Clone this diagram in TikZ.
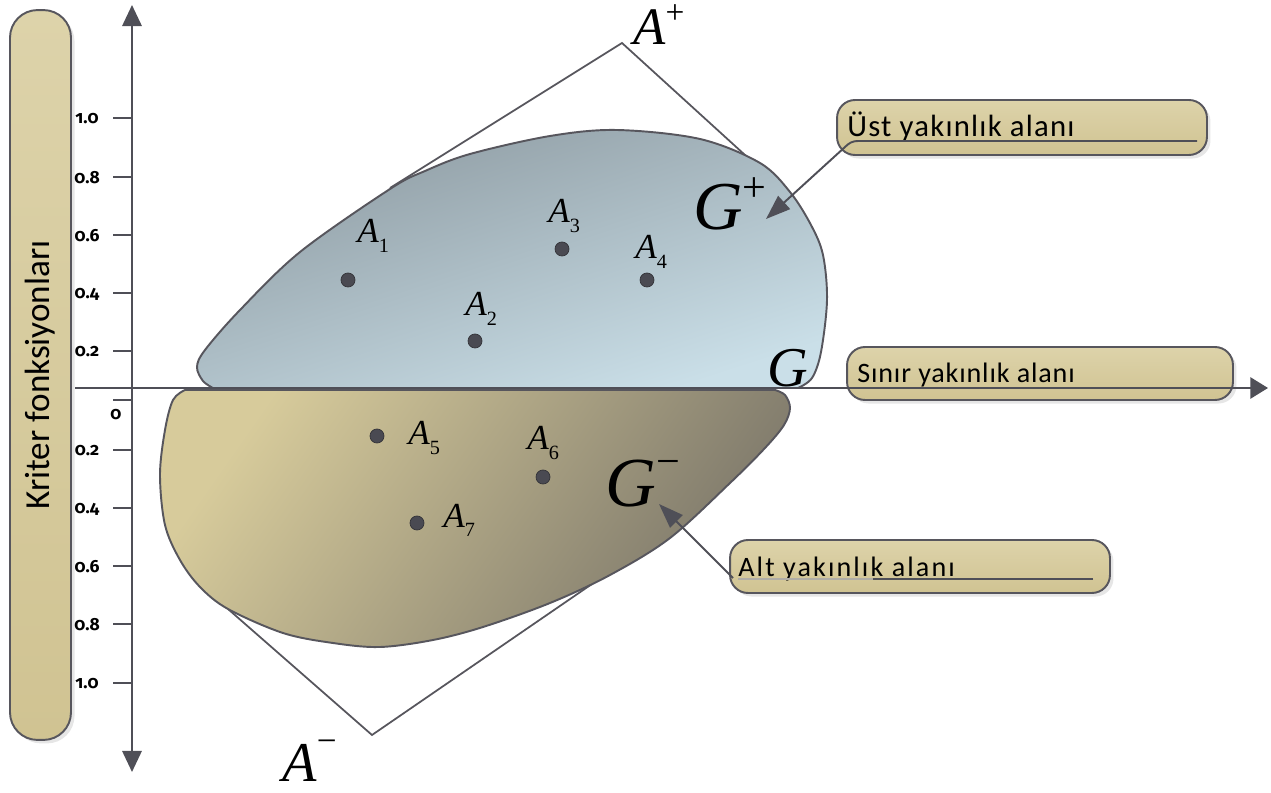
\documentclass[tikz,border=0pt]{standalone}
\usepackage{fontspec}
\setmainfont{Carlito}
\newfontfamily\tms{Liberation Serif}
\newfontfamily\tickfont[Numbers=OldStyle]{Fira Sans}
\usetikzlibrary{arrows.meta,shadows}
\definecolor{tan}{HTML}{D6CA9C}
\definecolor{tanhi}{HTML}{DDD3AA}
\definecolor{tanlo}{HTML}{D0C392}
\definecolor{edge}{HTML}{57565D}
\definecolor{axisc}{HTML}{4F4F57}
\definecolor{dotc}{HTML}{4A4A52}
\definecolor{bluedark}{HTML}{8E9BA2}
\definecolor{bluelight}{HTML}{CADFE8}
\definecolor{tanlight}{HTML}{D7CB9B}
\definecolor{tandark}{HTML}{7C776A}
\newcommand\myAsub[1]{\textit{A}\raisebox{-0.27em}{\fontsize{11.5}{11.5}\selectfont #1}}
\tikzset{
  tanbox/.style={draw=edge, line width=1.1pt, top color=tanhi, bottom color=tanlo,
    rounded corners=0.36cm, drop shadow={shadow xshift=2pt, shadow yshift=-2pt, opacity=0.2}},
  boxtext/.style={anchor=base west, inner sep=0},
  dotnode/.style={circle, fill=dotc, draw=dotc!70!black, line width=0.4pt, minimum size=0.28cm, inner sep=0},
  albl/.style={anchor=base west, inner sep=0, font=\tms\fontsize{20}{20}\selectfont},
  biglbl/.style={anchor=base west, inner sep=0},
  blobline/.style={draw=edge, line width=1.1pt},
  axisline/.style={draw=axisc, line width=1.3pt},
  tickline/.style={draw=axisc, line width=1.1pt},
  ticklbl/.style={inner sep=0, font=\tickfont\bfseries\fontsize{10}{10}\selectfont},
  callarrow/.style={draw=axisc, line width=1.1pt},
  sqline/.style={draw=edge, line width=1pt}
}
\begin{document}
\begin{tikzpicture}[x=0.02cm, y=-0.02cm]
\useasboundingbox (0,0) rectangle (1271,793);
% tilted square arms
\coordinate (Ap) at (622,43);
\coordinate (Am) at (372,735);
\coordinate (ul) at (390,188);
\coordinate (ur) at (790,196);
\coordinate (ll) at (228,609);
\coordinate (lr) at (640,551);
\draw[sqline] (ul) -- (Ap) -- (ur);
\draw[sqline] (ll) -- (Am) -- (lr);
% upper blob
\shade[top color=bluedark, bottom color=bluelight, shading angle=18]
  plot[smooth, tension=0.55] coordinates {(798,388) (812,378) (821,352) (827,300) (823,255) (811,225) (790,192) (760,163) (700,139) (617,130) (550,136) (470,154) (425,171) (390,189) (300,252) (240,310) (205,350) (197,367) (203,381) (213,388)} -- cycle;
\draw[blobline]
  plot[smooth, tension=0.55] coordinates {(798,388) (812,378) (821,352) (827,300) (823,255) (811,225) (790,192) (760,163) (700,139) (617,130) (550,136) (470,154) (425,171) (390,189) (300,252) (240,310) (205,350) (197,367) (203,381) (213,388)} -- cycle;
% lower blob
\shade[top color=tanlight, bottom color=tandark, shading angle=55]
  plot[smooth, tension=0.55] coordinates {(185,390) (173,400) (165,430) (160,475) (165,525) (180,560) (200,587) (228,609) (283,633) (333,643) (380,647) (433,640) (483,627) (550,603) (610,575) (670,538) (730,483) (765,448) (784,425) (790,408) (785,395) (775,390)} -- cycle;
\draw[blobline]
  plot[smooth, tension=0.55] coordinates {(185,390) (173,400) (165,430) (160,475) (165,525) (180,560) (200,587) (228,609) (283,633) (333,643) (380,647) (433,640) (483,627) (550,603) (610,575) (670,538) (730,483) (765,448) (784,425) (790,408) (785,395) (775,390)} -- cycle;
% points
\node[dotnode] (a1) at (348,280) {};
\node[dotnode] (a2) at (475,341) {};
\node[dotnode] (a3) at (562,249) {};
\node[dotnode] (a4) at (647,280) {};
\node[dotnode] (a5) at (377,436) {};
\node[dotnode] (a6) at (543,477) {};
\node[dotnode] (a7) at (417,523) {};
\node[albl] (l1) at (357,243) {\myAsub{1}};
\node[albl] (l2) at (465,316) {\myAsub{2}};
\node[albl] (l3) at (548,223) {\myAsub{3}};
\node[albl] (l4) at (635,259) {\myAsub{4}};
\node[albl] (l5) at (408,445) {\myAsub{5}};
\node[albl] (l6) at (527,450) {\myAsub{6}};
\node[albl] (l7) at (443,527) {\myAsub{7}};
% big labels
\node[biglbl, font=\tms\fontsize{30}{30}\selectfont] (lAp) at (633,45) {\textit{A}\raisebox{0.4em}{\fontsize{19}{19}\selectfont +}};
\node[biglbl, font=\tms\fontsize{32}{32}\selectfont] (lAm) at (282,781) {\textit{A}\raisebox{0.5em}{\fontsize{20}{20}\selectfont −}};
\node[biglbl, font=\tms\fontsize{39}{39}\selectfont] (lGp) at (693,230) {\textit{G}\raisebox{0.42em}{\fontsize{24}{24}\selectfont +}};
\node[biglbl, font=\tms\fontsize{32}{32}\selectfont] (lG) at (767,387) {\textit{G}};
\node[biglbl, font=\tms\fontsize{40}{40}\selectfont] (lGm) at (605,507) {\textit{G}\raisebox{0.45em}{\fontsize{24}{24}\selectfont −}};
% left bar
\node[tanbox, rotate=90, minimum width=14.6cm, minimum height=1.22cm, rounded corners=0.55cm,
  font=\fontsize{20}{20}\selectfont] (kbar) at (40.5,375) {Kriter fonksiyonları};
% callout boxes
\node[tanbox, minimum width=7.4cm, minimum height=1.1cm] (bust) at (1022,127.5) {};
\node[boxtext, font=\fontsize{17.5}{17.5}\selectfont\addfontfeature{LetterSpace=4}] (tust) at (847,137) {Üst yakınlık alanı};
\node[tanbox, minimum width=7.72cm, minimum height=1.06cm] (bsin) at (1040,373.5) {};
\node[boxtext, font=\fontsize{16}{16}\selectfont\addfontfeature{LetterSpace=3}] (tsin) at (857,383) {Sınır yakınlık alanı};
\node[tanbox, minimum width=7.6cm, minimum height=1.06cm] (balt) at (920,566.5) {};
\node[boxtext, font=\fontsize{16}{16}\selectfont\addfontfeature{LetterSpace=7.5}] (talt) at (738,577) {Alt yakınlık alanı};
% axes
\coordinate (vtop) at (132,5);
\coordinate (vbot) at (132,772);
\coordinate (hl) at (75,388);
\coordinate (hr) at (1268,388);
\draw[axisline, {Triangle[length=12pt,width=11pt]}-{Triangle[length=12pt,width=11pt]}] (vtop) -- (vbot);
\draw[axisline, -{Triangle[length=10pt,width=12pt]}] (hl) -- (hr);
\foreach \yy/\lab in {118/1.0, 177/0.8, 235/0.6, 293/0.4, 351/0.2, 450/0.2, 508/0.4, 566/0.6, 624/0.8, 683/1.0}{
  \coordinate (tk\yy) at (113,\yy);
  \draw[tickline] (tk\yy) -- (132,\yy);
  \node[ticklbl] (tl\yy) at (87,\yy+1) {\lab};
}
\coordinate (tk400) at (113,400);
\draw[tickline] (tk400) -- (132,400);
\node[ticklbl] (tl0) at (116,415) {0};
% callout arrows
\coordinate (gptip) at (766,219);
\coordinate (gmtip) at (659,504);
\coordinate (u1) at (1197,141);
\coordinate (u2) at (858,141);
\coordinate (u3) at (845,147);
\draw[callarrow, -{Triangle[length=14pt,width=10pt]}] (u1) -- (u2) to[out=180,in=45] (u3) -- (gptip);
\coordinate (al1) at (1093,579);
\coordinate (al2) at (873,579);
\coordinate (al3) at (738,579);
\coordinate (al4) at (733,578);
\draw[draw=tandark!60, line width=1pt] (al3) -- (al2);
\draw[callarrow] (al1) -- (al2);
\draw[callarrow, -{Triangle[length=14pt,width=10pt]}] (al4) -- (gmtip);
\end{tikzpicture}
\end{document}
